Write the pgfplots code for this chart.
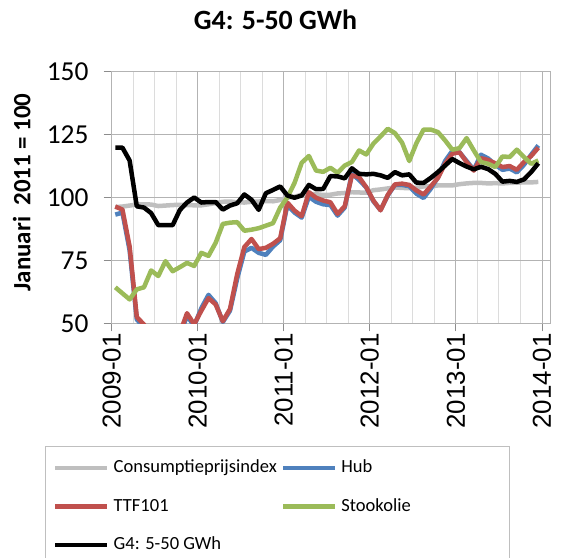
\documentclass[border=0pt]{standalone}
\usepackage{fontspec}
\setmainfont{Carlito}
\newfontfamily\xtickfont{Liberation Sans}
\usepackage{pgfplots}
\usepackage{pgfplotstable}
\pgfplotsset{compat=1.18}
\definecolor{cpi}{HTML}{BFBFBF}
\definecolor{hub}{HTML}{4F81BD}
\definecolor{ttf}{HTML}{C0504D}
\definecolor{oil}{HTML}{9BBB59}
\definecolor{majgrid}{HTML}{B3B3B3}
\definecolor{mingrid}{HTML}{DCDCDC}
\definecolor{axgray}{HTML}{8C8C8C}
\pgfplotstableread{
x cpi hub ttf oil g4
0.5 96.2 93.2 96.4 64.3 119.8
1.5 96.4 94.0 95.2 61.9 119.8
2.5 96.8 79.0 80.5 59.5 114.7
3.5 97.2 51.5 52.5 63.5 96.5
4.5 97.3 48.5 49.5 64.3 96.0
5.5 97.2 44 45 71.0 93.8
6.5 96.6 41 42 68.8 89.0
7.5 96.8 41 42 74.7 89.0
8.5 97.0 43 44 70.7 89.0
9.5 97.1 45 46 72.3 95.0
10.5 97.0 53.0 54.0 74.0 98.0
11.5 96.9 49.0 49.6 72.8 100.0
12.5 96.9 56.0 55.0 78.0 98.0
13.5 97.3 61.3 60.0 76.8 98.2
14.5 97.8 58.0 57.5 82.0 98.2
15.5 98.3 50.5 50.8 89.5 95.2
16.5 98.4 55.0 55.7 90.0 96.8
17.5 98.1 67.8 69.5 90.2 97.7
18.5 98.0 78.5 80.3 86.8 101.2
19.5 98.3 80.0 83.5 87.2 99.1
20.5 98.4 78.0 79.5 87.8 95.1
21.5 98.6 77.2 80.0 88.8 101.7
22.5 98.5 80.5 81.6 89.8 103.0
23.5 99.0 83.0 83.8 96.0 104.4
24.5 100.0 97.0 98.0 100.0 100.8
25.5 100.3 94.0 94.8 105.8 99.9
26.5 101.1 92.0 92.6 113.8 100.8
27.5 101.4 100.3 102.1 116.5 105.0
28.5 101.3 98.3 99.9 110.7 103.3
29.5 101.0 97.3 98.8 110.2 103.4
30.5 101.1 97.0 98.1 111.8 108.5
31.5 101.6 92.8 93.5 109.8 108.4
32.5 101.8 96.0 96.5 112.7 107.6
33.5 102.1 109.5 108.8 114.1 111.6
34.5 102.0 107.0 108.1 118.7 109.4
35.5 101.9 104.0 104.1 117.1 109.2
36.5 102.9 98.5 98.8 121.4 109.4
37.5 103.2 95.0 94.9 124.3 108.8
38.5 103.6 100.8 101.0 127.3 107.8
39.5 104.0 105.0 105.2 125.6 110.1
40.5 103.8 105.0 105.5 121.8 108.8
41.5 103.7 104.5 105.0 114.5 109.2
42.5 103.9 101.5 102.8 121.6 105.9
43.5 104.4 99.8 101.2 127.0 105.8
44.5 104.4 103.5 104.4 127.0 107.8
45.5 104.8 108.0 107.8 126.0 110.1
46.5 104.8 114.5 113.4 122.7 112.7
47.5 104.8 118.5 117.4 119.0 115.3
48.5 105.3 118.0 118.0 119.6 113.7
49.5 105.6 114.5 114.1 123.6 112.3
50.5 105.8 111.0 110.7 118.7 111.2
51.5 105.8 117.0 115.6 114.1 112.2
52.5 105.6 115.5 114.9 113.4 111.3
53.5 105.7 113.0 113.6 112.1 109.4
54.5 105.6 111.0 112.1 116.3 106.3
55.5 105.8 111.5 112.5 116.1 106.6
56.5 105.9 110.0 111.0 119.0 106.2
57.5 106.0 113.0 114.1 116.1 107.2
58.5 106.0 117.0 116.5 113.4 110.1
59.5 106.2 120.7 119.8 114.7 113.6
}\datatable
\begin{document}
\begin{tikzpicture}
\path[use as bounding box] (0,0) rectangle (565bp,558bp);
\begin{axis}[
  at={(111.7bp,234.7bp)}, anchor=south west,
  scale only axis, width=438.3bp, height=251.6bp,
  xmin=0, xmax=61.13, ymin=50, ymax=150,
  xtick={0,12,24,36,48,60},
  xticklabels={2009-01,2010-01,2011-01,2012-01,2013-01,2014-01},
  minor xtick={3,6,9,15,18,21,27,30,33,39,42,45,51,54,57},
  ytick={50,75,100,125,150},
  /pgf/number format/assume math mode=true,
  xmajorgrids, xminorgrids, ymajorgrids,
  major grid style={draw=majgrid, line width=0.8bp},
  minor grid style={draw=mingrid, line width=0.8bp},
  axis line style={draw=majgrid, line width=0.8bp},
  tick style={draw=axgray, line width=0.8bp},
  tick align=outside, major tick length=8bp, minor tick length=0pt,
  xtick pos=bottom, ytick pos=left,
  xticklabel style={font=\xtickfont\fontsize{26}{26}\selectfont, rotate=90, anchor=east, inner sep=2bp},
  yticklabel style={font=\fontsize{27.5}{27.5}\selectfont, inner sep=2bp, xshift=-13bp},
  title={G4: 5-50 GWh},
  title style={font=\fontsize{28}{28}\selectfont\bfseries, at={(axis description cs:0.3737,1.182)}, anchor=center},
  ylabel={Januari~~2011 = 100},
  ylabel style={font=\fontsize{25}{25}\selectfont\bfseries, at={(axis description cs:-0.205,0.52)}, anchor=center, rotate=0},
  legend columns=2,
  legend cell align=left,
  legend image code/.code={\draw[#1, line width=4.5bp] (0bp,0bp) -- (52bp,0bp);},
  legend style={at={(axis description cs:-0.152,-0.4877)}, anchor=north west,
    draw=cpi, line width=0.8bp, font=\fontsize{18.6}{18.6}\selectfont,
    inner xsep=7.7bp, inner ysep=12.3bp,
    nodes={inner sep=0pt, text height=14bp, text depth=5bp},
    column sep=4bp, row sep=19.5bp},
  every axis plot/.append style={line width=4.5bp, line join=round, mark=none},
]
\addplot[cpi] table[x=x, y=cpi] {\datatable};
\addlegendentry{Consumptieprijsindex}
\addplot[hub] table[x=x, y=hub] {\datatable};
\addlegendentry{Hub}
\addplot[ttf] table[x=x, y=ttf] {\datatable};
\addlegendentry{TTF101}
\addplot[oil] table[x=x, y=oil] {\datatable};
\addlegendentry{\makebox[160bp][l]{Stookolie}}
\addplot[black] table[x=x, y=g4] {\datatable};
\addlegendentry{G4: 5-50 GWh}
\end{axis}
\end{tikzpicture}
\end{document}
